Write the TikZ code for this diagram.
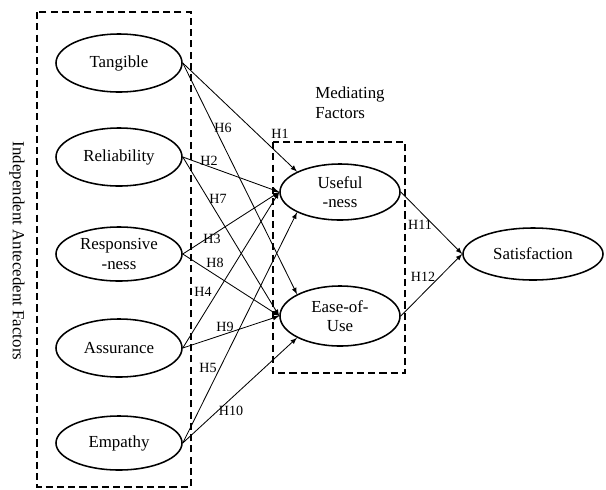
\documentclass[tikz,border=0pt]{standalone}
\usepackage{fontspec}
\setmainfont{Liberation Serif}
\usetikzlibrary{shapes.geometric}
\begin{document}
\begin{tikzpicture}[>=latex,x=0.025cm,y=-0.025cm,
  factor/.style={draw,ellipse,line width=1.1pt,minimum width=3.15cm,minimum height=1.45cm,align=center,font=\large,inner sep=0pt},
  hyp/.style={->,line width=0.6pt},
  hlabel/.style={inner sep=1pt},
  group/.style={line width=1.1pt,dash pattern=on 5pt off 3pt}]
\useasboundingbox (0,0) rectangle (606,489);
% dashed groups
\draw[group] (37,12) rectangle (191,487);
\draw[group] (273,142) rectangle (405,373);
\node[rotate=-90,font=\large] (indep) at (17,251) {Independent Antecedent Factors};
\node[anchor=north west,align=left,font=\large,inner sep=0pt] (medi) at (315,87) {Mediating\\Factors};
% factors
\node[factor] (tang) at (119,63) {Tangible};
\node[factor] (reli) at (119,157) {Reliability};
\node[factor,minimum height=1.35cm] (resp) at (119,254) {Responsive\\-ness};
\node[factor] (assu) at (119,348) {Assurance};
\node[factor,minimum height=1.35cm] (empa) at (119,443) {Empathy};
\node[factor,minimum width=3.0cm,minimum height=1.4cm] (use) at (340,192) {Useful\\-ness};
\node[factor,minimum width=3.0cm,minimum height=1.5cm] (ease) at (340,316) {Ease-of-\\Use};
\node[factor,minimum width=3.5cm,minimum height=1.3cm] (sat) at (533,254) {Satisfaction};
% hypotheses
\draw[hyp] (tang.east) -- (use.north west);
\draw[hyp] (tang.east) -- (ease.north west);
\draw[hyp] (reli.east) -- (use.west);
\draw[hyp] (reli.east) -- (ease.west);
\draw[hyp] (resp.east) -- (use.west);
\draw[hyp] (resp.east) -- (ease.west);
\draw[hyp] (assu.east) -- (use.west);
\draw[hyp] (assu.east) -- (ease.west);
\draw[hyp] (empa.east) -- (use.south west);
\draw[hyp] (empa.east) -- (ease.south west);
\draw[hyp] (use.east) -- (sat.west);
\draw[hyp] (ease.east) -- (sat.west);
\node[hlabel] (h1) at (280,134) {H1};
\node[hlabel] (h2) at (209,161) {H2};
\node[hlabel] (h3) at (212,239) {H3};
\node[hlabel] (h4) at (203,292) {H4};
\node[hlabel] (h5) at (208,368) {H5};
\node[hlabel] (h6) at (223,128) {H6};
\node[hlabel] (h7) at (218,199) {H7};
\node[hlabel] (h8) at (215,263) {H8};
\node[hlabel] (h9) at (225,327) {H9};
\node[hlabel] (h10) at (231,411) {H10};
\node[hlabel] (h11) at (420,225) {H11};
\node[hlabel] (h12) at (423,277) {H12};
\end{tikzpicture}
\end{document}
